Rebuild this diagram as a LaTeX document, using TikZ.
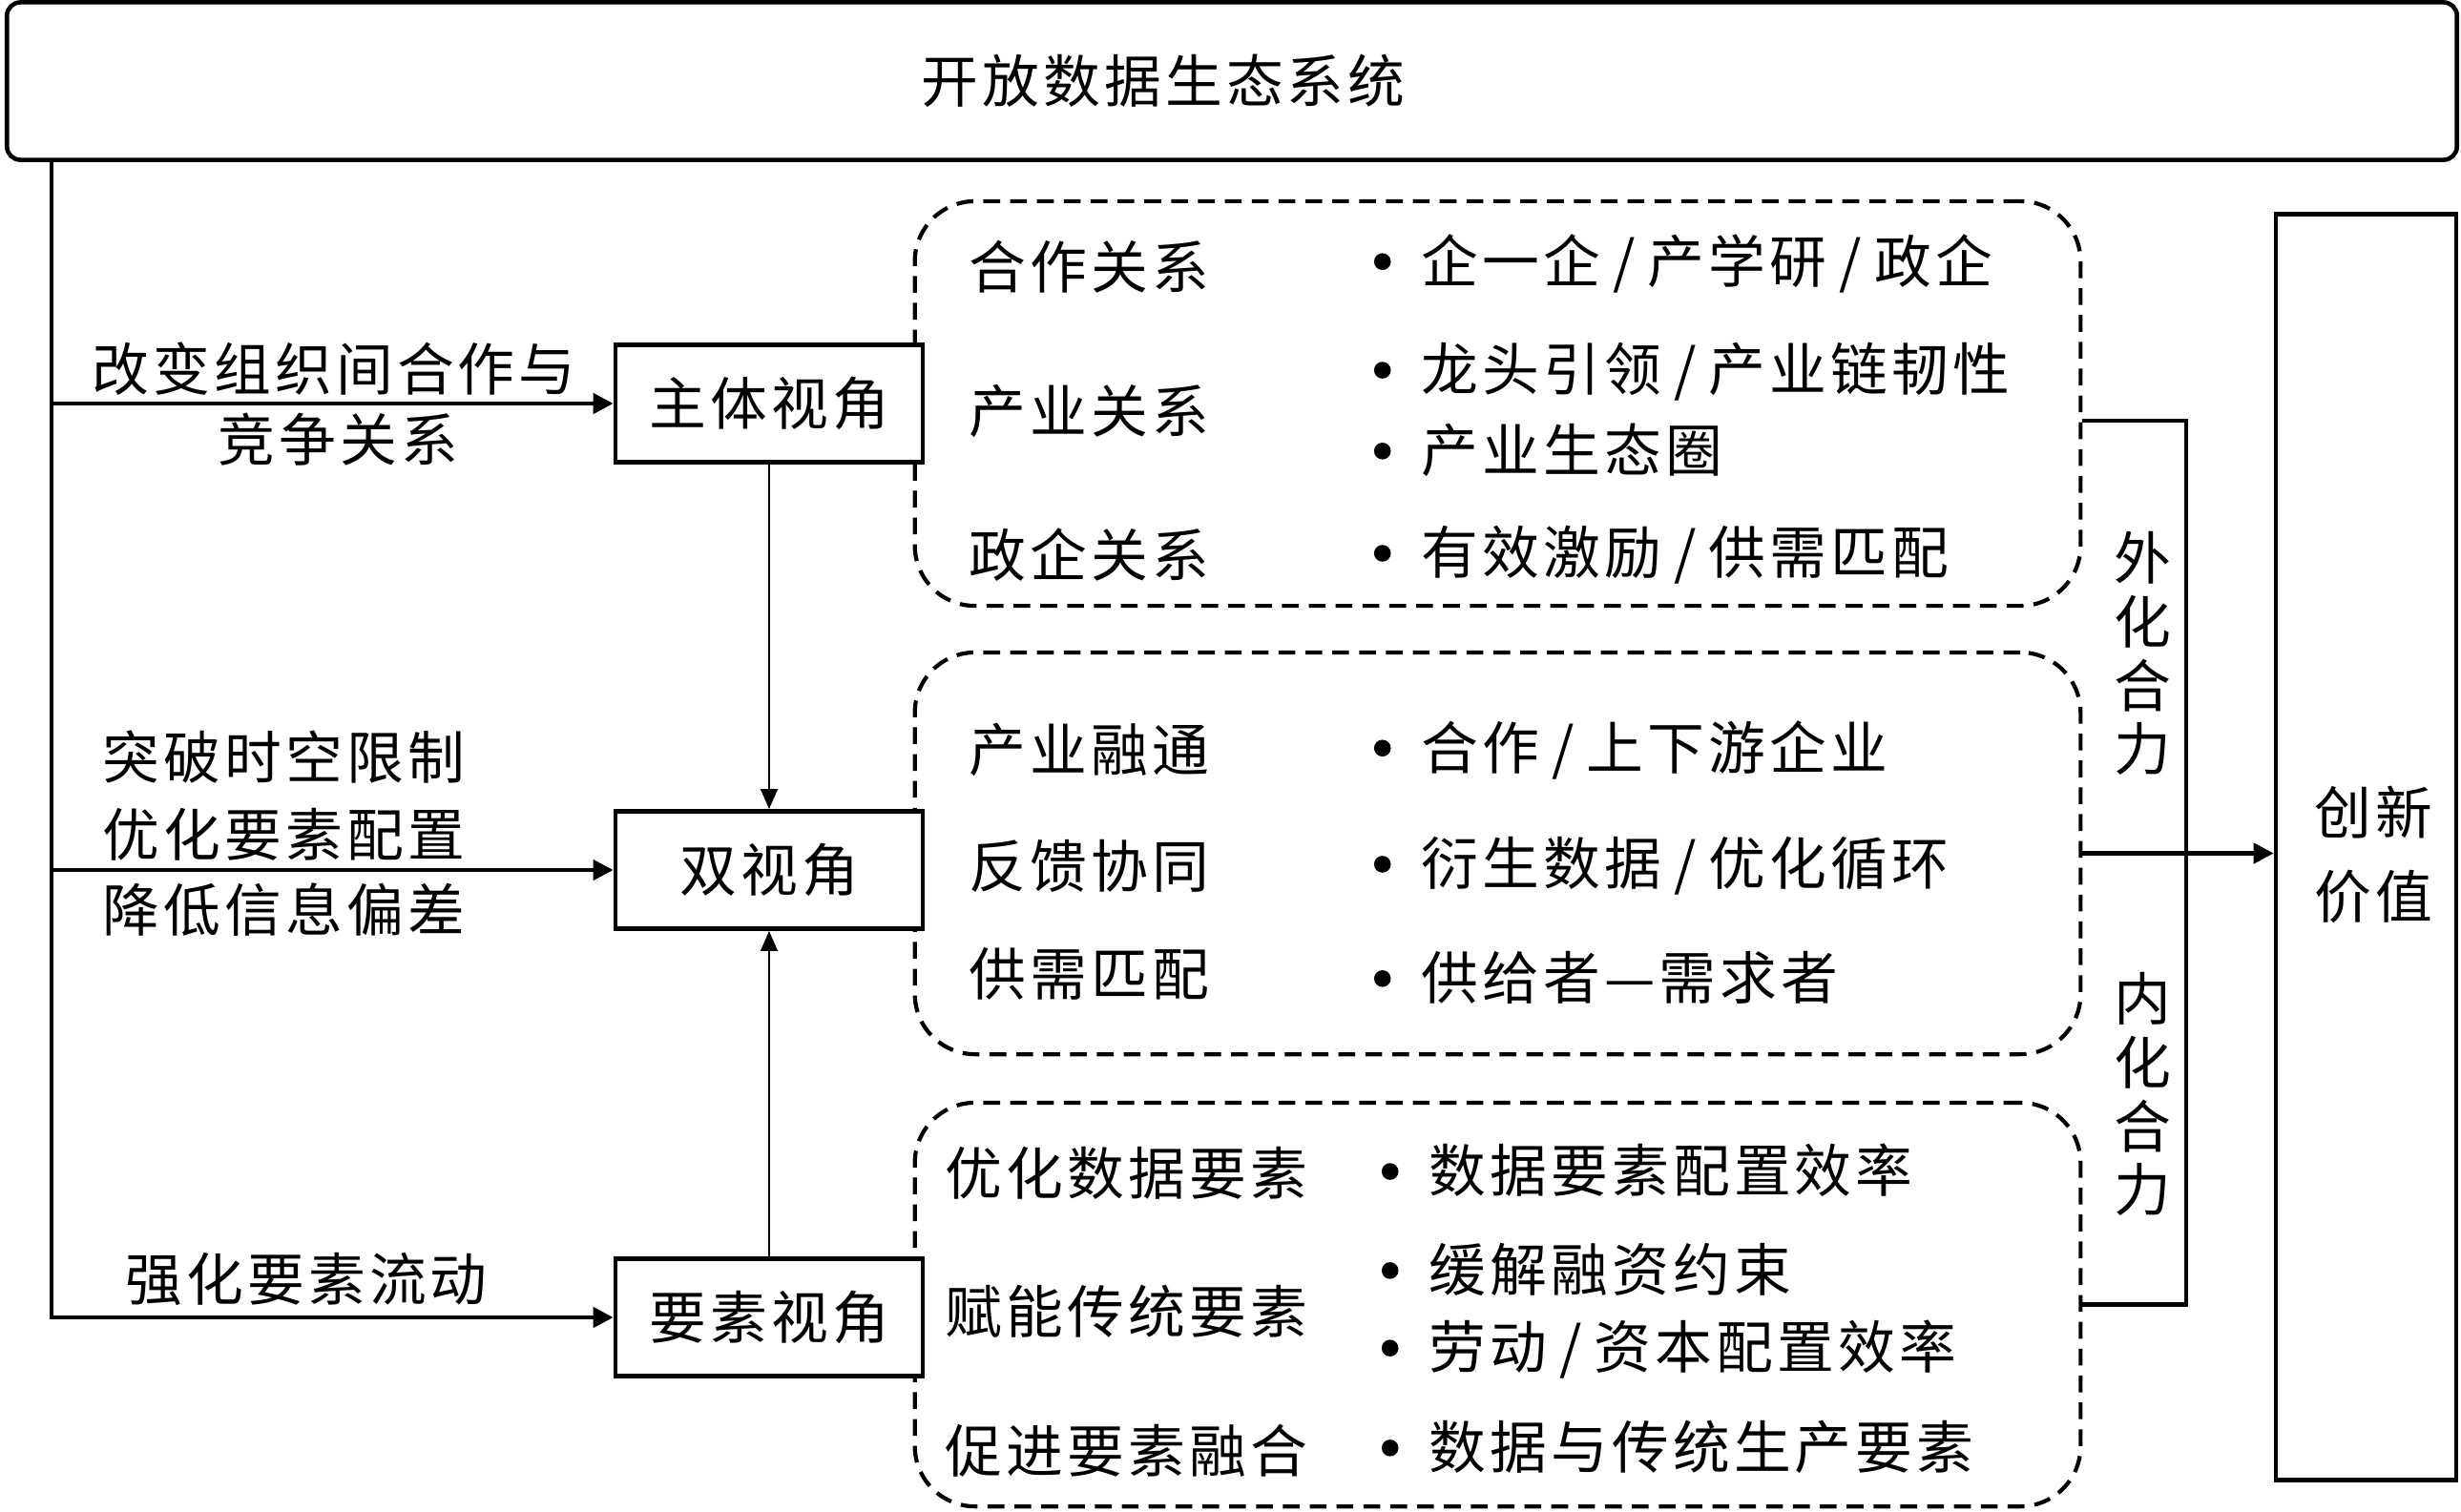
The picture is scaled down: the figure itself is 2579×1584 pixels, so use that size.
\documentclass[tikz,border=0pt]{standalone}
\usepackage{fontspec}
\setmainfont{Noto Sans CJK SC}[LetterSpace=7]
\usetikzlibrary{arrows.meta}
\newcommand{\bul}{\makebox[0pt]{\tikz[baseline={(0pt,-6.2pt)}]\fill (0pt,0pt) circle (2.5pt);}\hspace{11.5pt}}
\newcommand{\sep}{\hspace{0.22em}/\hspace{0.22em}}

\begin{document}
\begin{tikzpicture}[x=0.01cm,y=-0.01cm,
        txt/.style={font=\fontsize{17}{19}\selectfont, inner sep=0pt},
        viewbox/.style={draw, fill=white, line width=1.3pt, minimum width=3.22cm, minimum height=1.23cm, txt},
        dbox/.style={draw, line width=1.2pt, dash pattern=on 5pt off 3pt, rounded corners=18pt, minimum width=12.21cm},
        flow/.style={line width=1.3pt, -{Triangle[length=6pt,width=6pt]}},
        link/.style={line width=0.8pt, -{Triangle[length=6pt,width=5pt]}},
        bar/.style={line width=1.3pt}]
    \useasboundingbox (0,0) rectangle (2579,1584);

    \node[draw, line width=1.3pt, rounded corners=4pt, minimum width=25.66cm, minimum height=1.65cm] (eco) at (1291,85) {};
    \node[txt] (title) at (1219,85) {开放数据生态系统};

    \node[dbox, minimum height=4.24cm] (relbox) at (1569.5,423) {};
    \node[dbox, minimum height=4.21cm] (flowbox) at (1569.5,894.5) {};
    \node[dbox, minimum height=4.23cm] (factbox) at (1569.5,1367.5) {};

    \node[viewbox] (subj) at (806,423) {主体视角};
    \node[viewbox] (dual) at (806,912) {双视角};
    \node[viewbox] (fact) at (806,1381) {要素视角};

    \node[draw, line width=1.3pt, minimum width=1.89cm, minimum height=13.26cm] (value) at (2479.5,888) {};
    \node[font=\fontsize{17}{25}\selectfont, inner sep=0pt, align=center] (valtxt) at (2487,896) {创新\\价值};

    \coordinate (trunk) at (54,1381);
    \draw[flow] (eco.south -| trunk) |- (fact.west);
    \draw[flow] (subj.west -| trunk) -- (subj.west);
    \draw[flow] (dual.west -| trunk) -- (dual.west);
    \draw[link] (subj) -- (dual);
    \draw[link] (fact) -- (dual);

    \node[txt] (l1a) at (350,387) {改变组织间合作与};
    \node[txt] (l1b) at (354,461) {竞争关系};
    \node[txt, anchor=west] (l2a) at (107,794) {突破时空限制};
    \node[txt, anchor=west] (l2b) at (107,875) {优化要素配置};
    \node[txt, anchor=west] (l2c) at (107,954) {降低信息偏差};
    \node[txt] (l3) at (321,1341) {强化要素流动};

    \coordinate (bend) at (2291,0);
    \draw[bar] ([yshift=-0.18cm]relbox.east) -- ([yshift=-0.18cm]relbox.east -| bend) -- (factbox.east -| bend) -- (factbox.east);
    \draw[flow] (flowbox.east) -- (flowbox.east -| value.west);
    \node[txt, align=center] (ext) at (2245,685) {外\\化\\合\\力};
    \node[txt, align=center] (int) at (2245,1147) {内\\化\\合\\力};

    \node[txt, anchor=west] (r1) at (1015,280) {合作关系};
    \node[txt, anchor=west] (r2) at (1015,431) {产业关系};
    \node[txt, anchor=west] (r3) at (1015,582) {政企关系};
    \node[txt, anchor=west] (r1a) at (1448,276) {\bul 企一企\sep 产学研\sep 政企};
    \node[txt, anchor=west] (r2a) at (1448,390) {\bul 龙头引领\sep 产业链韧性};
    \node[txt, anchor=west] (r2b) at (1448,472) {\bul 产业生态圈};
    \node[txt, anchor=west] (r3a) at (1448,582) {\bul 有效激励\sep 供需匹配};

    \node[txt, anchor=west] (f1) at (1015,786) {产业融通};
    \node[txt, anchor=west] (f2) at (1015,908) {反馈协同};
    \node[txt, anchor=west] (f3) at (1015,1021) {供需匹配};
    \node[txt, anchor=west] (f1a) at (1448,786) {\bul 合作\sep 上下游企业};
    \node[txt, anchor=west] (f2a) at (1448,908) {\bul 衍生数据\sep 优化循环};
    \node[txt, anchor=west] (f3a) at (1448,1025) {\bul 供给者—需求者};

    \node[txt, anchor=west] (e1) at (990,1230) {优化数据要素};
    \node[txt, anchor=west] (e2) at (990,1375) {赋能传统要素};
    \node[txt, anchor=west] (e3) at (990,1521) {促进要素融合};
    \node[txt, anchor=west] (e1a) at (1456,1227) {\bul 数据要素配置效率};
    \node[txt, anchor=west] (e2a) at (1456,1331) {\bul 缓解融资约束};
    \node[txt, anchor=west] (e2b) at (1456,1415) {\bul 劳动\sep 资本配置效率};
    \node[txt, anchor=west] (e3a) at (1456,1517) {\bul 数据与传统生产要素};
\end{tikzpicture}
\end{document}
